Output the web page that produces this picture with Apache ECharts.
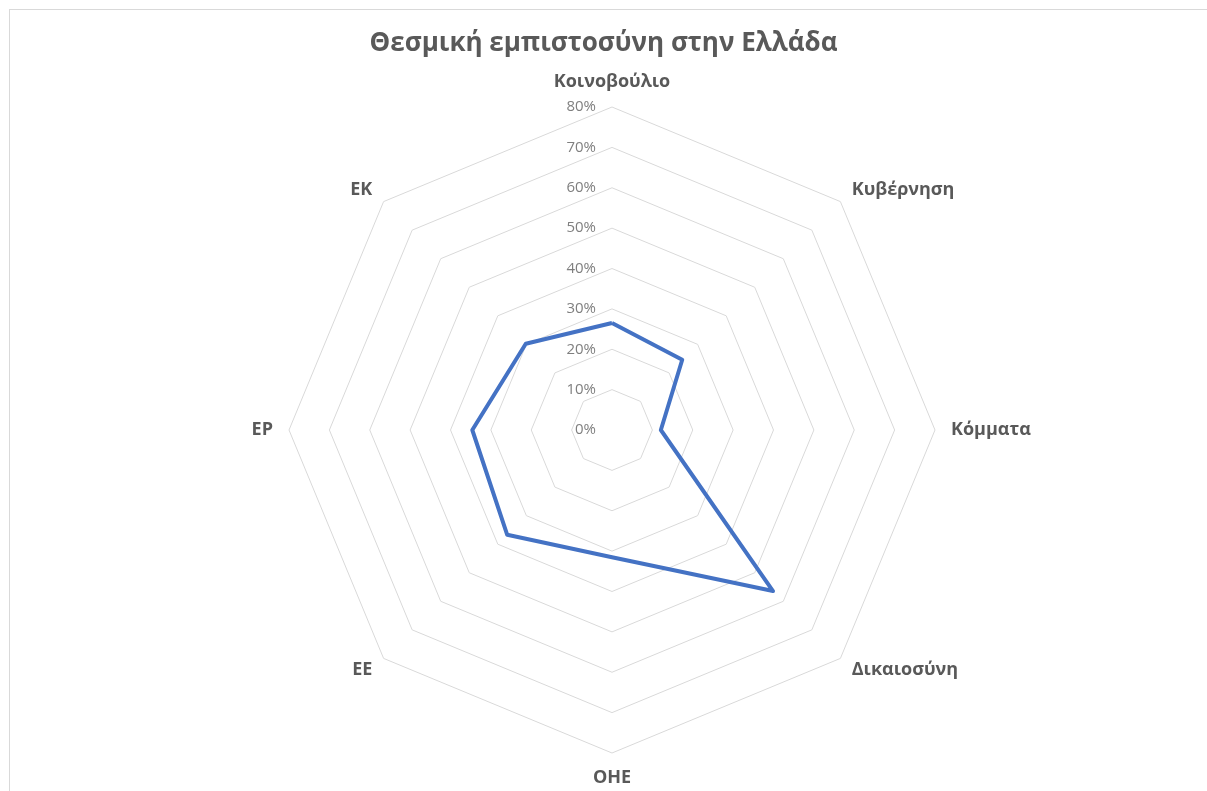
<!DOCTYPE html>
<html>
<head>
<meta charset="utf-8">
<script src="https://cdn.jsdelivr.net/npm/echarts@6/dist/echarts.min.js"></script>
<style>
  html, body { margin: 0; padding: 0; background: #fff; }
  .frame {
    position: absolute;
    left: 9px;
    top: 9px;
    width: 1300px;
    height: 900px;
    border-left: 1px solid #d9d9d9;
    border-top: 1px solid #d9d9d9;
  }
  #radarChart { position: absolute; left: 0; top: 0; width: 1207px; height: 791px; }
</style>
</head>
<body>
<div class="frame"></div>
<div id="radarChart"></div>
<script>
// θεσμοί (άξονες, δεξιόστροφα από πάνω) και τιμές εμπιστοσύνης σε %
const institutions = ['Κοινοβούλιο', 'Κυβέρνηση', 'Κόμματα', 'Δικαιοσύνη', 'ΟΗΕ', 'ΕΕ', 'ΕΡ', 'ΕΚ']
const trustValues = [26.5, 24.6, 12.1, 56.4, 31.5, 36.7, 34.6, 30.2]
const tickValues = [0, 10, 20, 30, 40, 50, 60, 70, 80]

const axisMax = tickValues[tickValues.length - 1]

// το echarts πάει αριστερόστροφα, οπότε αντιστρέφουμε τη σειρά (εκτός του πρώτου)
const order = [0].concat(institutions.map((n, i) => i).slice(1).reverse())

let myChart = echarts.init(document.getElementById('radarChart'))

myChart.setOption({
  animation: false,
  textStyle: { fontFamily: 'Open Sans' },
  title: {
    text: 'Θεσμική εμπιστοσύνη στην Ελλάδα',
    left: 'center',
    top: 26,
    textStyle: {
      color: '#595959',
      fontWeight: 'bold',
      fontSize: 26,
      fontFamily: 'Open Sans'
    }
  },
  radar: {
    center: [612, 430],
    radius: 323,
    startAngle: 90,
    shape: 'polygon',
    splitNumber: tickValues.length - 1,
    nameGap: 16,
    axisName: {
      color: '#595959',
      fontWeight: 'bold',
      fontSize: 18,
      fontFamily: 'Open Sans'
    },
    indicator: order.map(function (idx, i) {
      let ind = { name: institutions[idx], min: 0, max: axisMax }
      if (i === 0) {
        // μόνο ο πρώτος άξονας έχει ετικέτες κλίμακας
        ind.axisLabel = {
          show: true,
          color: '#7f7f7f',
          fontSize: 15,
          margin: 16,
          fontFamily: 'Open Sans',
          formatter: function (v) { return v + '%' }
        }
      }
      return ind
    }),
    axisLine: { show: false },
    axisTick: { show: false },
    axisLabel: { show: false },
    splitArea: { show: false },
    splitLine: {
      lineStyle: { color: '#d9d9d9', width: 1 }
    }
  },
  series: [
    {
      name: 'Εμπιστοσύνη',
      type: 'radar',
      symbol: 'none',
      lineStyle: { color: '#4472c4', width: 4 },
      data: [{ value: order.map(idx => trustValues[idx]) }]
    }
  ]
})
</script>
</body>
</html>
